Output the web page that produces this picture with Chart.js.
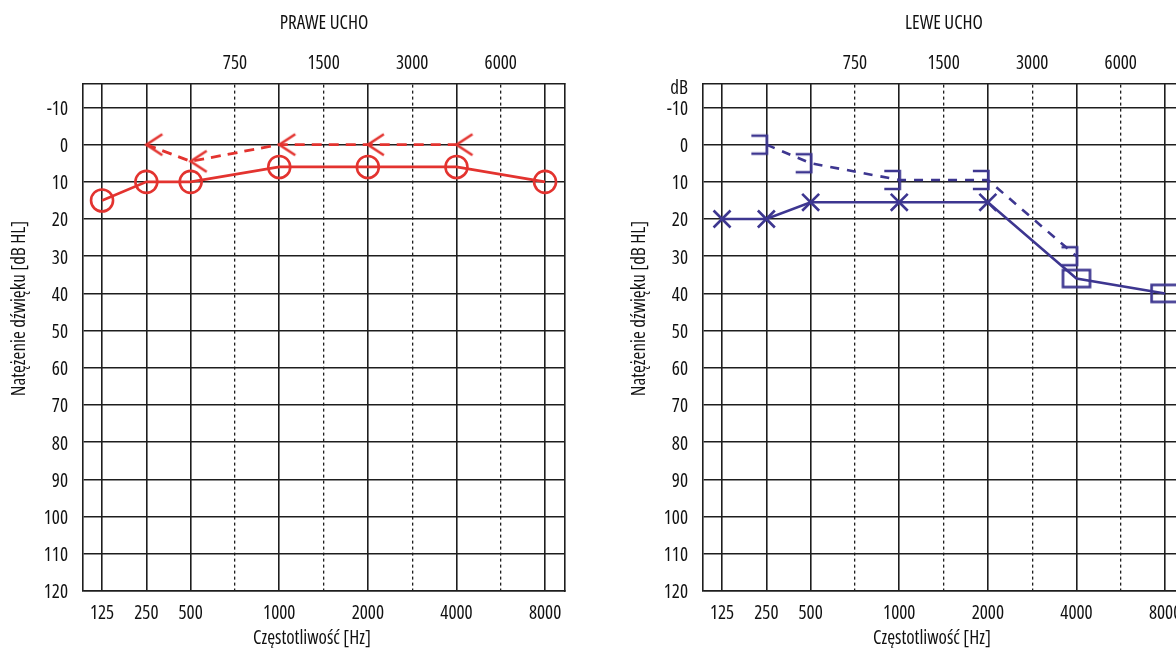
<!DOCTYPE html>
<html><head><meta charset="utf-8">
<script src="https://cdn.jsdelivr.net/npm/chart.js@4/dist/chart.umd.min.js"></script>
<style>
html,body{margin:0;padding:0;overflow:hidden;background:#fff;width:1176px;height:648px;}
.wrap{position:absolute;top:0;}
#wrapL{left:0;}
#wrapR{left:620px;}
</style></head><body>
<div class="wrap" id="wrapL"><canvas id="cL" width="590" height="648"></canvas></div>
<div class="wrap" id="wrapR"><canvas id="cR" width="590" height="648"></canvas></div>
<script>
// ---------- data ----------
const frequencies = ['125','250','500','750','1000','1500','2000','3000','4000','6000','8000'];
const mainFreqLabels = ['125','250','500','1000','2000','4000','8000'];
const midFreqLabels = ['750','1500','3000','6000'];
const dbTicks = [-10,0,10,20,30,40,50,60,70,80,90,100,110,120];
const unitTickLabel = 'dB';
const unitTickValue = -15.6;

const rightAirFreqs = ['125','250','500','1000','2000','4000','8000'];
const rightAirDb    = [15, 10, 10, 6, 6, 6, 10];
const rightBoneFreqs = ['250','500','1000','2000','4000'];
const rightBoneDb    = [0, 4.5, 0, 0, 0];

const leftAirFreqs  = ['125','250','500','1000','2000','4000','8000'];
const leftAirDb     = [20, 20, 15.5, 15.5, 15.5, 36, 40];
const leftAirMasked = [false,false,false,false,false,true,true];
const leftBoneFreqs = ['250','500','1000','2000','4000'];
const leftBoneDb    = [0, 5, 9.5, 9.5, 30];

const titles = {right:'PRAWE UCHO', left:'LEWE UCHO'};
const xTitle = 'Częstotliwość [Hz]';
const yTitle = 'Natężenie dźwięku [dB HL]';

// ---------- style ----------
const RED = '#e3332f';
const BLUE = '#3d3690';
const GRID = '#1e1e1e';
const TEXT = '#111111';
const FSIZE = 19;
const FONT = {family: "'Open Sans','DejaVu Sans Condensed',sans-serif", size: FSIZE, weight: 'condensed'};
const FONT_STR = FONT.weight + ' ' + FONT.size + 'px ' + FONT.family;
const X_MIN = -0.43, X_MAX = 10.45, Y_MIN = -16.3, Y_MAX = 120;

function marker(w, h, draw){
  const c = document.createElement('canvas');
  c.width = w; c.height = h;
  const g = c.getContext('2d');
  draw(g, w/2, h/2);
  return c;
}
const arrowMarker = marker(40, 30, (g,cx,cy)=>{
  g.strokeStyle = RED; g.lineWidth = 2.6;
  g.beginPath(); g.moveTo(cx+16, cy-10.5); g.lineTo(cx, cy); g.lineTo(cx+16, cy+10.5); g.stroke();
});
const bracketMarker = marker(38, 26, (g,cx,cy)=>{
  g.strokeStyle = BLUE; g.lineWidth = 2.6;
  g.beginPath(); g.moveTo(cx-15, cy-9); g.lineTo(cx+0.5, cy-9); g.lineTo(cx+0.5, cy+9); g.lineTo(cx-15, cy+9); g.stroke();
});
const rectMarker = marker(34, 24, (g,cx,cy)=>{
  g.strokeStyle = BLUE; g.lineWidth = 2.6;
  g.strokeRect(cx-13.5, cy-8.5, 27, 17);
});

function pts(freqs, vals){ return freqs.map((f,i)=>({x: frequencies.indexOf(f), y: vals[i]})); }

const axisTitlePlugin = {
  id: 'axisTitles',
  afterDraw(chart){
    const {ctx, chartArea} = chart;
    ctx.save();
    ctx.font = FONT_STR;
    ctx.fillStyle = TEXT;
    ctx.textAlign = 'center';
    ctx.textBaseline = 'middle';
    ctx.fillText(xTitle, (chartArea.left + chartArea.right)/2 - 12, chart.height - 9);
    ctx.translate(20, (chartArea.top + chartArea.bottom)/2 - 29);
    ctx.rotate(-Math.PI/2);
    ctx.fillText(yTitle, 0, 0);
    ctx.restore();
  }
};

function makeChart(id, title, datasets, showUnit){
  const yValues = showUnit ? [unitTickValue].concat(dbTicks) : dbTicks.slice();
  return new Chart(document.getElementById(id), {
    type: 'line',
    data: {datasets},
    plugins: [axisTitlePlugin],
    options: {
      responsive: false, animation: false, events: [],
      layout: {padding: {left: 0, right: 25, top: 0, bottom: 0}},
      plugins: {legend: {display: false}, tooltip: {enabled: false}, title: {display: false}},
      elements: {line: {tension: 0}},
      scales: {
        x: {
          type: 'linear', position: 'bottom', min: X_MIN, max: X_MAX,
          afterBuildTicks: s => { s.ticks = mainFreqLabels.map(f => ({value: frequencies.indexOf(f)})); },
          afterFit: s => { s.height = 57; },
          ticks: {callback: v => frequencies[v], font: FONT, color: TEXT, padding: 11.6, maxRotation: 0, autoSkip: false},
          grid: {color: GRID, lineWidth: 1.6, drawTicks: false},
          border: {display: true, color: GRID, width: 1.6}
        },
        x2: {
          type: 'linear', position: 'top', min: X_MIN, max: X_MAX,
          afterBuildTicks: s => { s.ticks = midFreqLabels.map(f => ({value: frequencies.indexOf(f)})); },
          afterFit: s => { s.height = 84; },
          ticks: {callback: v => frequencies[v], font: FONT, color: TEXT, padding: 8.6, maxRotation: 0, autoSkip: false},
          grid: {color: GRID, lineWidth: 1.3, drawTicks: false},
          border: {display: true, color: GRID, width: 1.6, dash: [3, 3]},
          title: {display: true, text: title, font: FONT, color: TEXT, padding: {top: 12.6, bottom: 0}}
        },
        y: {
          type: 'linear', position: 'left', reverse: true, min: Y_MIN, max: Y_MAX,
          afterBuildTicks: s => { s.ticks = yValues.map(v => ({value: v})); },
          afterFit: s => { s.width = 83; },
          ticks: {callback: v => (v === unitTickValue ? unitTickLabel : String(v)), font: FONT, color: TEXT, padding: 15, labelOffset: 2, autoSkip: false},
          grid: {color: c => (c.tick && c.tick.value === unitTickValue ? 'rgba(0,0,0,0)' : GRID), lineWidth: 1.6, drawTicks: false},
          border: {display: true, color: GRID, width: 1.6}
        },
        y2: {
          type: 'linear', position: 'right', min: Y_MIN, max: Y_MAX,
          afterFit: s => { s.width = 0; },
          ticks: {display: false},
          grid: {display: false, drawTicks: false},
          border: {display: true, color: GRID, width: 1.6}
        }
      }
    }
  });
}

makeChart('cL', titles.right, [
  {data: pts(rightAirFreqs, rightAirDb), borderColor: RED, borderWidth: 2.8, pointStyle: 'circle', pointRadius: 11,
   pointBorderWidth: 2.6, pointBorderColor: RED, pointBackgroundColor: 'rgba(0,0,0,0)', clip: false},
  {data: pts(rightBoneFreqs, rightBoneDb), borderColor: RED, borderWidth: 2.8, borderDash: [10, 7], pointStyle: arrowMarker,
   pointRadius: 10, clip: false}
], false);

makeChart('cR', titles.left, [
  {data: pts(leftAirFreqs, leftAirDb), borderColor: BLUE, borderWidth: 2.6,
   pointStyle: leftAirMasked.map(m => m ? rectMarker : 'crossRot'), pointRadius: 12,
   pointBorderWidth: 2.6, pointBorderColor: BLUE, pointBackgroundColor: 'rgba(0,0,0,0)', clip: false},
  {data: pts(leftBoneFreqs, leftBoneDb), borderColor: BLUE, borderWidth: 2.6, borderDash: [9, 8], pointStyle: bracketMarker,
   pointRadius: 10, clip: false}
], true);
</script>
</body></html>
